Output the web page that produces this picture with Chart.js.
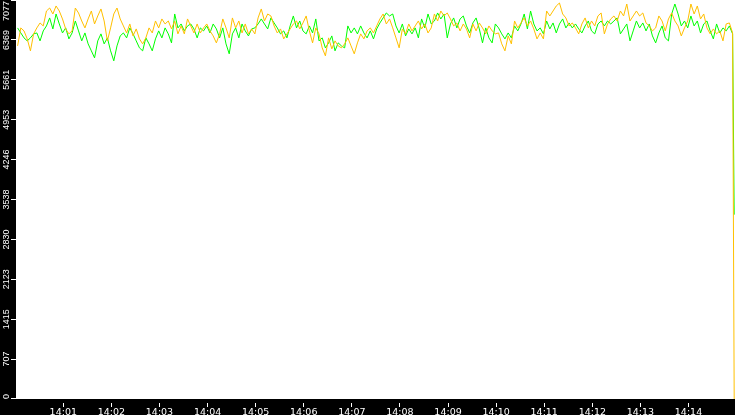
<!DOCTYPE html>
<html>
<head>
<meta charset="utf-8">
<script src="https://cdn.jsdelivr.net/npm/chart.js@4.4.1/dist/chart.umd.min.js"></script>
<style>
    html, body { margin: 0; padding: 0; background: #000; }
    canvas { display: block; }
</style>
</head>
<body>
<canvas id="grafico" width="735" height="415"></canvas>
<script>
// Amostras a cada 4 s, a partir de 14:00:03 (segundos desde 14:00:00)
const inicioSeg = 3;
const passoSeg = 4;

// Série laranja
const serieLaranja = [
    6263, 6582, 6529, 6387, 6175, 6476, 6582, 6670, 6617, 6882,
    6935, 6829, 6971, 6882, 6741, 6564, 6476, 6529, 6935, 6847,
    6705, 6582, 6741, 6882, 6652, 6794, 6918, 6705, 6352, 6582,
    6829, 6935, 6741, 6617, 6493, 6652, 6440, 6564, 6387, 6299,
    6405, 6582, 6493, 6705, 6582, 6741, 6652, 6705, 6564, 6705,
    6476, 6617, 6476, 6741, 6617, 6493, 6652, 6493, 6582, 6652,
    6529, 6440, 6316, 6476, 6741, 6582, 6405, 6759, 6582, 6705,
    6493, 6652, 6476, 6564, 6476, 6759, 6918, 6705, 6829, 6794,
    6617, 6493, 6564, 6387, 6476, 6564, 6652, 6705, 6564, 6670,
    6794, 6529, 6316, 6582, 6476, 6228, 6086, 6405, 6210, 6352,
    6263, 6228, 6299, 6405, 6263, 6122, 6316, 6476, 6387, 6529,
    6582, 6493, 6617, 6741, 6829, 6652, 6741, 6582, 6405, 6228,
    6564, 6476, 6652, 6529, 6617, 6705, 6564, 6652, 6493, 6582,
    6829, 6705, 6882, 6794, 6847, 6741, 6617, 6670, 6529, 6652,
    6564, 6405, 6652, 6529, 6670, 6582, 6476, 6617, 6529, 6476,
    6493, 6299, 6175, 6440, 6299, 6705, 6582, 6670, 6759, 6617,
    6705, 6564, 6387, 6493, 6387, 6882, 6794, 6882, 6971, 7024,
    6829, 6759, 6617, 6670, 6582, 6476, 6652, 6759, 6582, 6705,
    6617, 6794, 6847, 6476, 6652, 6741, 6794, 6705, 6882, 6794,
    7006, 6705, 6794, 6882, 6794, 6847, 6670, 6617, 6529, 6582,
    6794, 6705, 6529, 6741, 6847, 6705, 6617, 6440, 6582, 6705,
    7006, 6829, 6971, 6741, 6829, 6582, 6476, 6564, 6476, 6529,
    6352, 6652, 6670, 6493
];

// Série verde
const serieVerde = [
    6582, 6493, 6405, 6352, 6405, 6476, 6493, 6352, 6529, 6617,
    6759, 6564, 6829, 6652, 6493, 6582, 6387, 6493, 6705, 6529,
    6352, 6493, 6299, 6175, 6051, 6352, 6476, 6299, 6405, 6175,
    5998, 6263, 6440, 6493, 6405, 6582, 6476, 6352, 6228, 6175,
    6405, 6299, 6175, 6387, 6529, 6405, 6582, 6476, 6316, 6829,
    6582, 6652, 6529, 6617, 6652, 6564, 6405, 6582, 6529, 6617,
    6493, 6652, 6564, 6405, 6582, 6299, 6122, 6476, 6582, 6405,
    6652, 6529, 6440, 6564, 6582, 6652, 6741, 6652, 6564, 6759,
    6670, 6582, 6476, 6529, 6405, 6617, 6794, 6582, 6705, 6529,
    6476, 6617, 6493, 6741, 6352, 6405, 6228, 6316, 6440, 6175,
    6316, 6263, 6228, 6617, 6493, 6582, 6476, 6617, 6493, 6405,
    6529, 6387, 6564, 6670, 6759, 6847, 6794, 6829, 6617, 6493,
    6652, 6440, 6564, 6476, 6582, 6405, 6741, 6582, 6829, 6652,
    6705, 6847, 6741, 6829, 6405, 6652, 6759, 6582, 6741, 6794,
    6617, 6493, 6670, 6759, 6564, 6316, 6582, 6405, 6316, 6652,
    6582, 6476, 6387, 6493, 6405, 6617, 6529, 6652, 6829, 6564,
    6882, 6652, 6529, 6582, 6476, 6705, 6564, 6670, 6493, 6652,
    6741, 6582, 6670, 6582, 6652, 6564, 6493, 6617, 6705, 6529,
    6476, 6652, 6705, 6617, 6705, 6652, 6705, 6759, 6476, 6564,
    6652, 6352, 6529, 6705, 6582, 6670, 6529, 6652, 6440, 6316,
    6493, 6617, 6405, 6352, 6829, 7006, 6829, 6617, 6705, 6582,
    6794, 6617, 6705, 6493, 6652, 6705, 6529, 6387, 6652, 6493,
    6582, 6529, 6617, 6476
];

// Última leitura (queda no fim do período)
const quedaSeg = 897;
const quedaLaranja = 0;
const quedaVerde = 3270;

// Eixo X: marcas de minuto
const xTickSeg = [60, 120, 180, 240, 300, 360, 420, 480, 540, 600, 660, 720, 780, 840];
const xTickLabels = ['14:01', '14:02', '14:03', '14:04', '14:05', '14:06', '14:07',
                     '14:08', '14:09', '14:10', '14:11', '14:12', '14:13', '14:14'];

// Eixo Y
const yTickValores = [0, 707.7, 1415.4, 2123.1, 2830.8, 3538.5, 4246.2, 4953.9, 5661.6, 6369.3, 7077];
const yTickLabels = ['0', '707', '1415', '2123', '2830', '3538', '4246', '4953', '5661', '6369', '7077'];

function pontos(serie, queda) {
    const lista = serie.map((v, i) => ({ x: inicioSeg + i * passoSeg, y: v }));
    lista.push({ x: quedaSeg, y: queda });
    return lista;
}

// Fundo preto, área do gráfico branca, marcas e rótulos verticais do eixo Y
const fundoPlugin = {
    id: 'fundo',
    beforeDraw(chart) {
        const { ctx, chartArea: a } = chart;
        ctx.save();
        ctx.fillStyle = '#000';
        ctx.fillRect(0, 0, chart.width, chart.height);
        ctx.fillStyle = '#fff';
        ctx.fillRect(a.left, a.top, a.right - a.left, a.bottom - a.top);
        ctx.restore();
    },
    afterDraw(chart) {
        const { ctx, chartArea: a } = chart;
        const escalaY = chart.scales.y;
        const escalaX = chart.scales.x;
        ctx.save();
        ctx.fillStyle = '#fff';

        // marcas do eixo X
        xTickSeg.forEach(v => {
            const px = Math.floor(escalaX.getPixelForValue(v));
            ctx.fillRect(px, a.bottom + 4, 1, 4);
        });

        // marcas e rótulos do eixo Y
        ctx.font = '9px "Liberation Sans"';
        ctx.textAlign = 'center';
        ctx.textBaseline = 'middle';
        yTickValores.forEach((v, i) => {
            const py = escalaY.getPixelForValue(v);
            ctx.fillRect(Math.round(a.left) - 5, Math.min(Math.floor(py), a.bottom - 1), 5, 1);

            const txt = yTickLabels[i];
            const w = ctx.measureText(txt).width;
            const p = Math.min(Math.max(py, a.top + 1 + w / 2), a.bottom - w / 2);
            ctx.save();
            ctx.translate(6.5, p);
            ctx.rotate(-Math.PI / 2);
            ctx.fillText(txt, 0, 0);
            ctx.restore();
        });
        ctx.restore();
    }
};

const ctx = document.getElementById('grafico').getContext('2d');
new Chart(ctx, {
    type: 'line',
    data: {
        datasets: [
            {
                label: 'laranja',
                data: pontos(serieLaranja, quedaLaranja),
                borderColor: '#ffc000',
                borderWidth: 1,
                pointRadius: 0,
                tension: 0,
                fill: false
            },
            {
                label: 'verde',
                data: pontos(serieVerde, quedaVerde),
                borderColor: '#00ff00',
                borderWidth: 1,
                pointRadius: 0,
                tension: 0,
                fill: false
            }
        ]
    },
    options: {
        responsive: false,
        animation: false,
        layout: { padding: 0 },
        plugins: {
            legend: { display: false },
            tooltip: { enabled: false }
        },
        scales: {
            x: {
                type: 'linear',
                min: 1,
                max: 898,
                afterBuildTicks(scale) {
                    scale.ticks = xTickSeg.map(v => ({ value: v }));
                },
                afterFit(scale) {
                    scale.height = 16;
                },
                border: { display: false },
                grid: { display: false, drawTicks: false },
                ticks: {
                    color: '#fff',
                    font: { family: 'DejaVu Sans', size: 9.5 },
                    padding: 8,
                    maxRotation: 0,
                    autoSkip: false,
                    callback: (v, i) => xTickLabels[i]
                }
            },
            y: {
                type: 'linear',
                min: 0,
                max: 7077,
                afterBuildTicks(scale) {
                    scale.ticks = yTickValores.map(v => ({ value: v }));
                },
                afterFit(scale) {
                    scale.width = 16;
                },
                border: { display: false },
                grid: { display: false, drawTicks: false },
                ticks: { display: false }
            }
        }
    },
    plugins: [fundoPlugin]
});
</script>
</body>
</html>
